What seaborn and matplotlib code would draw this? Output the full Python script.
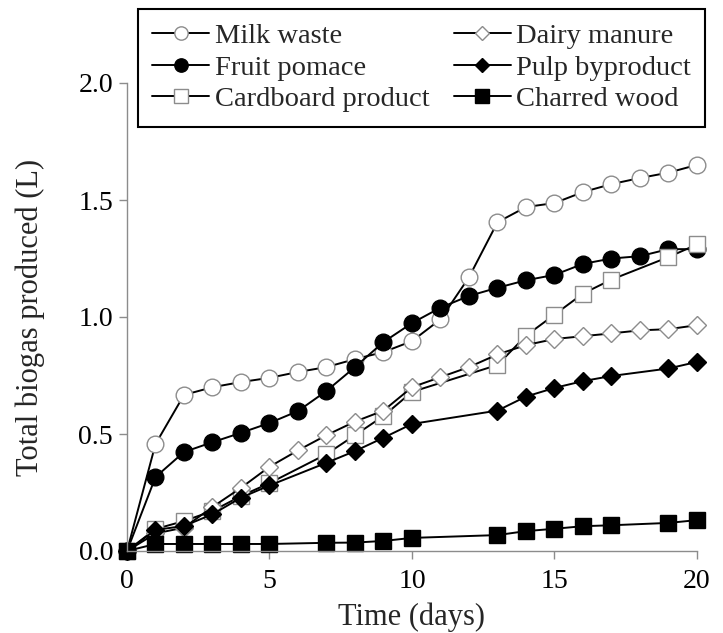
import numpy as np
import pandas as pd
import matplotlib
matplotlib.use("Agg")
import matplotlib.pyplot as plt
import seaborn as sns

# Sampling days
days_all = list(range(0, 21))
days_sub = [0, 1, 2, 3, 4, 5, 7, 8, 9, 10, 13, 14, 15, 16, 17, 19, 20]

# Cumulative biogas (L)
milk_waste = [0, 0.457, 0.667, 0.700, 0.722, 0.740, 0.765, 0.786, 0.820, 0.850, 0.897,
              0.990, 1.170, 1.405, 1.470, 1.487, 1.534, 1.568, 1.594, 1.617, 1.650]
fruit_pomace = [0, 0.316, 0.423, 0.465, 0.505, 0.547, 0.598, 0.684, 0.786, 0.893, 0.974,
                1.040, 1.090, 1.125, 1.157, 1.180, 1.227, 1.250, 1.260, 1.290, 1.290]
dairy_manure = [0, 0.075, 0.100, 0.188, 0.270, 0.360, 0.430, 0.495, 0.553, 0.600, 0.700,
                0.743, 0.786, 0.840, 0.880, 0.906, 0.918, 0.930, 0.943, 0.948, 0.965]
cardboard_product = [0, 0.094, 0.128, 0.171, 0.235, 0.290, 0.414, 0.495, 0.577, 0.680,
                     0.795, 0.920, 1.010, 1.100, 1.160, 1.256, 1.310]
pulp_byproduct = [0, 0.090, 0.107, 0.157, 0.228, 0.280, 0.377, 0.427, 0.484, 0.543,
                  0.600, 0.660, 0.697, 0.726, 0.748, 0.780, 0.808]
charred_wood = [0, 0.030, 0.030, 0.030, 0.030, 0.030, 0.035, 0.036, 0.043, 0.056,
                0.068, 0.085, 0.095, 0.106, 0.110, 0.120, 0.132]

sns.set_style("ticks")
plt.rcParams["font.family"] = ["Liberation Serif", "DejaVu Serif"]

fig = plt.figure(figsize=(7.23, 6.33), dpi=100)
ax = fig.add_axes([127 / 723, 1 - 551 / 633, 570 / 723, 468 / 633])

GRAY = "#8c8c8c"
open_style = dict(markerfacecolor="white", markeredgecolor=GRAY)
full_style = dict(markerfacecolor="black", markeredgecolor="black")

series = [
    ("Milk waste", days_all, milk_waste, "o", 12, open_style),
    ("Fruit pomace", days_all, fruit_pomace, "o", 12, full_style),
    ("Cardboard product", days_sub, cardboard_product, "s", 12, open_style),
    ("Dairy manure", days_all, dairy_manure, "D", 9, open_style),
    ("Pulp byproduct", days_sub, pulp_byproduct, "D", 9, full_style),
    ("Charred wood", days_sub, charred_wood, "s", 12, full_style),
]

for name, x, y, mk, ms, st in series:
    df = pd.DataFrame({"day": x, "gas": y})
    sns.lineplot(data=df, x="day", y="gas", ax=ax, color="black", linewidth=1.4,
                 marker=mk, markersize=ms, markeredgewidth=1.0, label=name,
                 errorbar=None, clip_on=False, **st)

ax.set_xlim(0, 20)
ax.set_ylim(0, 2.0)
ax.set_xticks([0, 5, 10, 15, 20])
ax.set_yticks([0.0, 0.5, 1.0, 1.5, 2.0])
ax.set_yticklabels(["0.0", "0.5", "1.0", "1.5", "2.0"])
ax.set_xlabel("Time (days)", fontsize=22, labelpad=6)
ax.set_ylabel("Total biogas produced (L)", fontsize=22, labelpad=24)

for side in ["top", "right"]:
    ax.spines[side].set_visible(False)
for side in ["left", "bottom"]:
    ax.spines[side].set_color(GRAY)
    ax.spines[side].set_linewidth(1.0)
ax.tick_params(axis="both", direction="out", length=6, width=1.0, color=GRAY,
               labelsize=20, labelcolor="black")
ax.tick_params(axis="x", pad=7)
ax.tick_params(axis="y", pad=4)

handles, labels = ax.get_legend_handles_labels()
leg = ax.legend(handles, labels, ncol=2, fontsize=20.5, loc="upper left",
                bbox_to_anchor=(138 / 723, 1 - 9 / 633), bbox_transform=fig.transFigure,
                borderaxespad=0, frameon=True, fancybox=False, framealpha=1,
                edgecolor="black", handlelength=2.0, handletextpad=0.2,
                columnspacing=0.85, labelspacing=0.2, borderpad=0.5, markerscale=0.8)
leg.get_frame().set_linewidth(1.5)

fig.savefig("out.png", dpi=100)
